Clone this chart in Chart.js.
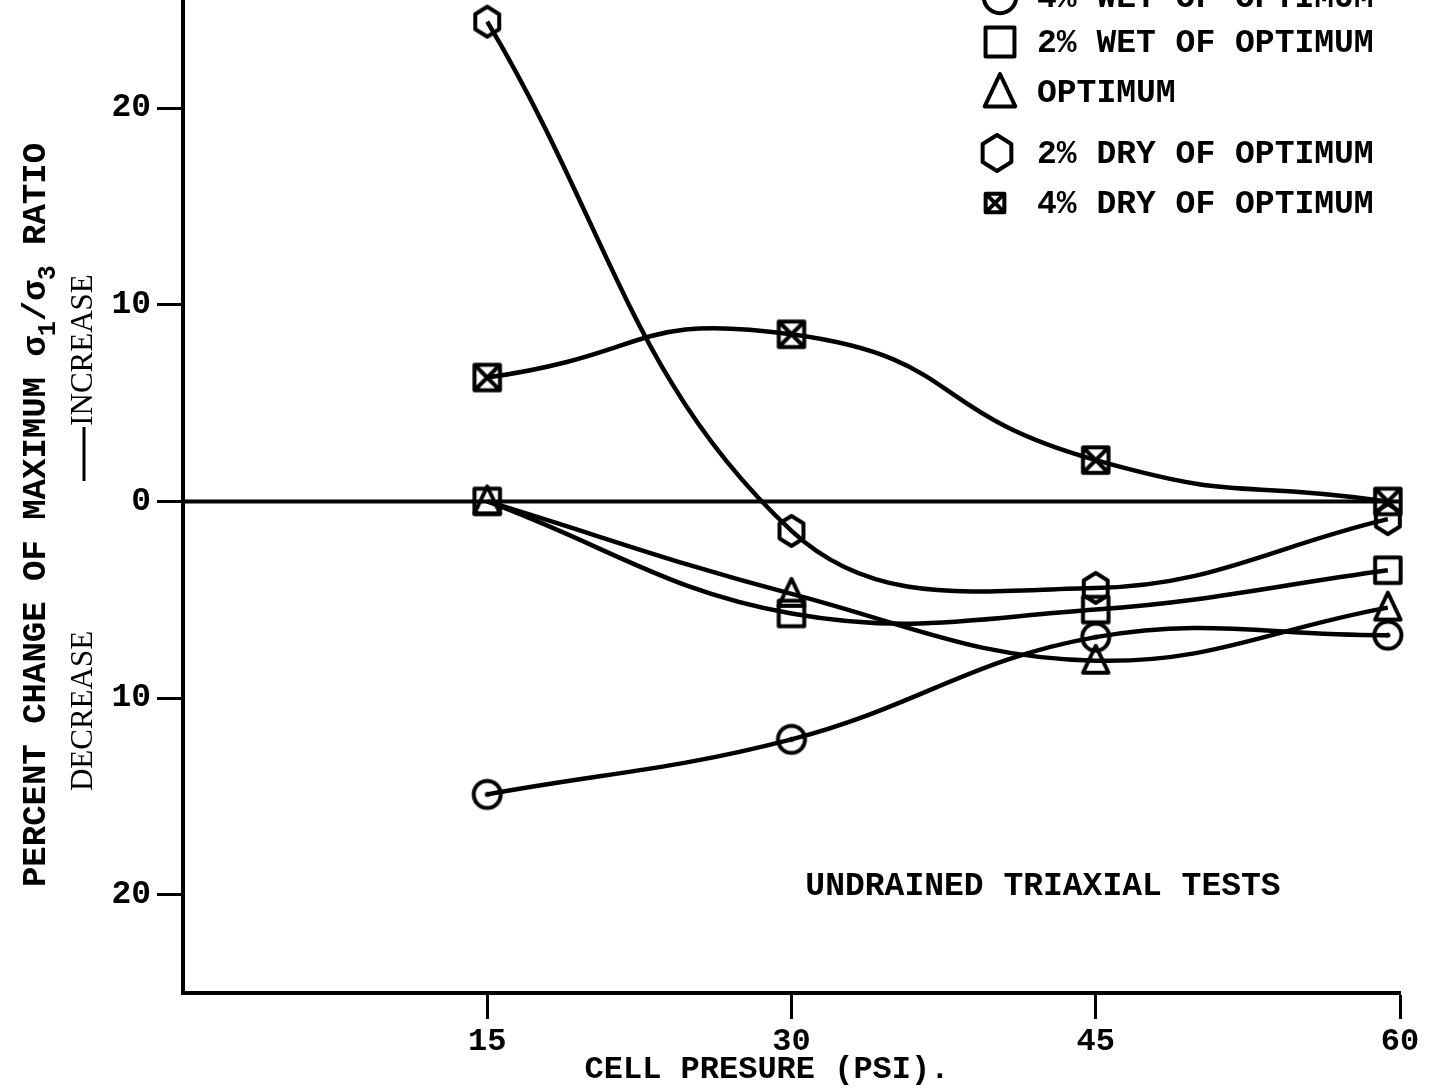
<!DOCTYPE html>
<html>
<head>
<meta charset="utf-8">
<script src="https://cdn.jsdelivr.net/npm/chart.js@4.4.1/dist/chart.umd.min.js"></script>
<style>
  html, body { margin: 0; padding: 0; background: #fff; }
  #wrap { width: 1429px; height: 1088px; }
</style>
</head>
<body>
<div id="wrap"><canvas id="chart" width="1429" height="1088"></canvas></div>
<script>
// cell pressure (psi) where the points were plotted, and percent change of
// max sigma1/sigma3 ratio (decrease = negative)
const pressures = [15, 30, 45, 59.4];
const wet4 = [-14.9, -12.1, -6.9, -6.8];
const wet2 = [0, -5.7, -5.5, -3.5];
const optimum = [0, -4.7, -8.1, -5.4];
const dry2 = [24.4, -1.5, -4.4, -0.9];
const dry4 = [6.3, 8.5, 2.1, 0];

const seriesLabels = ['4% WET OF OPTIMUM', '2% WET OF OPTIMUM', 'OPTIMUM', '2% DRY OF OPTIMUM', '4% DRY OF OPTIMUM'];
const xTicks = [15, 30, 45, 60];
const yTicks = [-20, -10, 0, 10, 20];

const MONO = '"Liberation Mono", "Courier New", monospace';
const SERIF = '"Liberation Serif", "Times New Roman", serif';

// markers drawn on small canvases so hexagon / crossed box are possible
function marker(shape, s, lw) {
  const c = document.createElement('canvas');
  c.width = s; c.height = s;
  const g = c.getContext('2d');
  g.strokeStyle = '#000';
  g.lineWidth = lw;
  g.lineJoin = 'round';
  const m = s / 2, r = s / 2 - lw / 2 - 1;
  g.beginPath();
  if (shape == 'circle') {
    g.arc(m, m, r * 0.9, 0, Math.PI * 2);
  } else if (shape == 'square' || shape == 'xbox') {
    const h = r * 0.85;
    g.rect(m - h, m - h, 2 * h, 2 * h);
    if (shape == 'xbox') {
      g.moveTo(m - h, m - h); g.lineTo(m + h, m + h);
      g.moveTo(m + h, m - h); g.lineTo(m - h, m + h);
    }
  } else if (shape == 'triangle') {
    g.moveTo(m, m - r);
    g.lineTo(m + r * 0.85, m + r * 0.8);
    g.lineTo(m - r * 0.85, m + r * 0.8);
    g.closePath();
  } else if (shape == 'hexagon') {
    for (let i = 0; i < 6; i++) {
      const a = (-90 + 60 * i) * Math.PI / 180;
      const px = m + r * 0.92 * Math.cos(a), py = m + r * Math.sin(a);
      if (i == 0) g.moveTo(px, py); else g.lineTo(px, py);
    }
    g.closePath();
  }
  g.stroke();
  if (shape == 'circle') {
    g.beginPath(); g.arc(m, m, 2.5, 0, Math.PI * 2); g.fillStyle = '#000'; g.fill();
  }
  return c;
}

const shapes = ['circle', 'square', 'triangle', 'hexagon', 'xbox'];
const pointImgs = shapes.map(s => marker(s, 36, 4));
const legendImgs = [marker('circle', 42, 4), marker('square', 40, 4), marker('triangle', 42, 4), marker('hexagon', 42, 4), marker('xbox', 28, 4)];

function pts(arr) {
  return arr.map((v, i) => ({ x: pressures[i], y: v }));
}

function ds(label, arr, idx, tension) {
  return {
    label: label,
    data: pts(arr),
    borderColor: '#000',
    borderWidth: 4.5,
    tension: tension,
    fill: false,
    clip: false,
    pointStyle: pointImgs[idx],
    pointRadius: 16,
    order: 1
  };
}

const datasets = [
  ds(seriesLabels[0], wet4, 0, 0.4),
  ds(seriesLabels[1], wet2, 1, 0.4),
  ds(seriesLabels[2], optimum, 2, 0.4),
  ds(seriesLabels[3], dry2, 3, 0.4),
  ds(seriesLabels[4], dry4, 4, 0.55),
  {
    label: 'zero',
    data: [{ x: 0, y: 0 }, { x: 60, y: 0 }],
    borderColor: '#000',
    borderWidth: 4,
    pointRadius: 0,
    order: 2
  }
];

// text that Chart.js can't place the same way: axis title with subscripts, legend, note
const textPlugin = {
  id: 'texts',
  afterDraw(chart) {
    const c = chart.ctx;
    c.save();
    c.fillStyle = '#000';

    // y title, rotated
    c.save();
    c.translate(36, 515);
    c.rotate(-Math.PI / 2);
    const big = 'bold 34px ' + MONO, small = 'bold 25px ' + MONO;
    const parts = [
      ['PERCENT CHANGE OF MAXIMUM \u03c3', big, 0],
      ['1', small, 13],
      ['/\u03c3', big, 0],
      ['3', small, 13],
      [' RATIO', big, 0]
    ];
    let total = 0;
    parts.forEach(p => { c.font = p[1]; total += c.measureText(p[0]).width; });
    let x = -total / 2;
    c.textBaseline = 'middle';
    c.textAlign = 'left';
    parts.forEach(p => {
      c.font = p[1];
      c.fillText(p[0], x, p[2]);
      x += c.measureText(p[0]).width;
    });
    c.restore();

    // increase / decrease notes
    c.save();
    c.translate(84, 0);
    c.rotate(-Math.PI / 2);
    c.font = '31px ' + SERIF;
    c.textBaseline = 'middle';
    c.textAlign = 'center';
    c.fillText('INCREASE', -350, 0);
    c.fillText('DECREASE', -711, 0);
    c.fillRect(-481, -1.5, 54, 3);
    c.restore();

    // x title
    c.font = 'bold 32px ' + MONO;
    c.textAlign = 'center';
    c.textBaseline = 'middle';
    c.fillText('CELL PRESURE (PSI).', 767, 1070);

    // note
    c.font = 'bold 33px ' + MONO;
    c.fillText('UNDRAINED TRIAXIAL TESTS', 1043, 887);

    // legend
    const ly = [-3, 42, 92, 153, 203];
    const lx = [1000, 1000, 1000, 997, 995];
    c.textAlign = 'left';
    for (let i = 0; i < 5; i++) {
      const img = legendImgs[i];
      c.drawImage(img, lx[i] - img.width / 2, ly[i] - img.height / 2);
      c.fillText(seriesLabels[i], 1037, ly[i] + 2);
    }
    c.restore();
  }
};

const ctx = document.getElementById('chart').getContext('2d');

var chart = new Chart(ctx, {
  type: 'line',
  data: { datasets: datasets },
  options: {
    responsive: false,
    animation: false,
    layout: { autoPadding: false, padding: { top: 0, right: 29, left: 0, bottom: 0 } },
    plugins: { legend: { display: false }, tooltip: { enabled: false } },
    scales: {
      x: {
        type: 'linear',
        min: 0,
        max: 60,
        afterBuildTicks: s => { s.ticks = xTicks.map(v => ({ value: v })); },
        afterFit: s => { s.height = 95; s.paddingLeft = 0; s.paddingRight = 0; },
        border: { display: true, color: '#000', width: 4 },
        grid: { display: true, drawOnChartArea: false, drawTicks: true, tickLength: 26, tickWidth: 3, color: '#000' },
        ticks: { color: '#000', font: { family: MONO, size: 32, weight: 'bold' }, padding: 4, maxRotation: 0 }
      },
      y: {
        type: 'linear',
        min: -25,
        max: 25.5,
        afterBuildTicks: s => { s.ticks = yTicks.map(v => ({ value: v })); },
        afterFit: s => { s.width = 183; s.paddingTop = 0; s.paddingBottom = 0; },
        border: { display: true, color: '#000', width: 4 },
        grid: { display: true, drawOnChartArea: false, drawTicks: true, tickLength: 26, tickWidth: 3, color: '#000' },
        ticks: {
          color: '#000',
          font: { family: MONO, size: 33, weight: 'bold' },
          padding: 6,
          callback: v => String(Math.abs(v))
        }
      }
    }
  },
  plugins: [textPlugin]
});
</script>
</body>
</html>
